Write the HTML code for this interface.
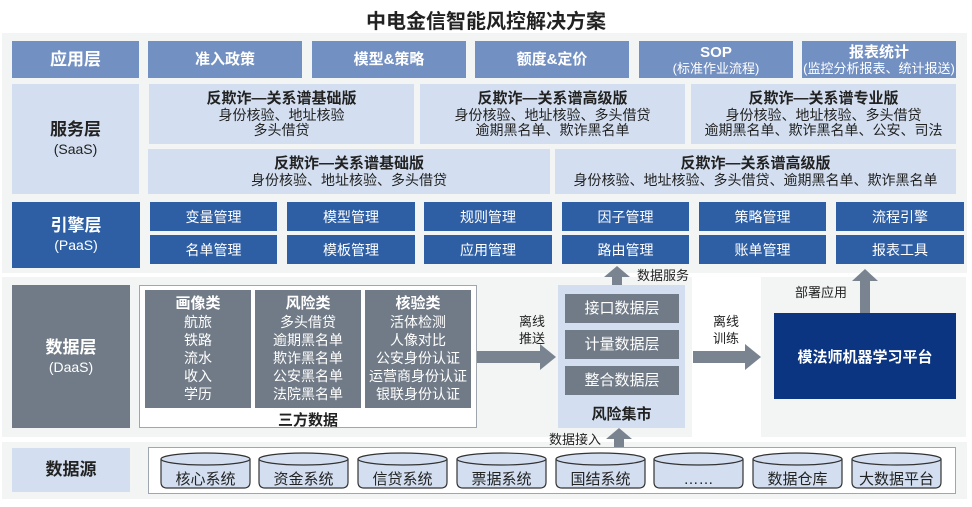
<!DOCTYPE html>
<html><head><meta charset="utf-8"><style>
body{margin:0;width:972px;height:507px;background:#fff;position:relative;overflow:hidden;font-family:"Liberation Sans","Noto Sans CJK SC",sans-serif;}
div{position:absolute;box-sizing:border-box;}
.c{display:flex;flex-direction:column;align-items:center;justify-content:center;text-align:center;}
.app{background:#7390c2;color:#fff;font-weight:bold;font-size:15px;line-height:17px;}
.app small{font-weight:normal;font-size:13px;line-height:15px;}
.svc{background:#d3dff0;color:#222;font-size:14px;line-height:15px;}
.svc b{font-size:15px;line-height:18px;}
.eng{background:#2e5fa5;color:#fff;font-size:14px;}
.dk{background:#717b87;color:#fff;font-size:14px;line-height:18px;}
.dk b{font-size:15px;}
.lbl{font-weight:bold;font-size:17px;line-height:20px;}
.lbl span{font-weight:normal;font-size:14px;line-height:18px;}
.t{font-size:13px;color:#222;line-height:17px;}
</style></head><body>
<div style="left:0;top:5px;width:972px;text-align:center;font-size:20px;font-weight:bold;color:#222;">中电金信智能风控解决方案</div>
<div style="left:2px;top:33px;width:965px;height:240px;background:#f3f5f5;"></div>
<div style="left:2px;top:277px;width:556px;height:160px;background:#f3f5f5;"></div>
<div style="left:558px;top:277px;width:134px;height:160px;background:#f3f5f5;"></div>
<div style="left:761px;top:277px;width:205px;height:160px;background:#f3f5f5;"></div>
<div style="left:2px;top:442px;width:965px;height:57px;background:#f3f5f5;"></div>

<div class="c app lbl" style="left:12px;top:41px;width:127px;height:37px;">应用层</div>
<div class="c app" style="left:148px;top:41px;width:154px;height:37px;">准入政策</div>
<div class="c app" style="left:312px;top:41px;width:154px;height:37px;">模型&amp;策略</div>
<div class="c app" style="left:475px;top:41px;width:154px;height:37px;">额度&amp;定价</div>
<div class="c app" style="left:639px;top:41px;width:154px;height:37px;">SOP<small>(标准作业流程)</small></div>
<div class="c app" style="left:802px;top:41px;width:154px;height:37px;">报表统计<small>(监控分析报表、统计报送)</small></div>

<div class="c svc lbl" style="left:12px;top:84px;width:127px;height:110px;color:#222;font-size:17px;line-height:20px;">服务层<span>(SaaS)</span></div>
<div class="c svc" style="left:149px;top:84px;width:265px;height:60px;"><b>反欺诈—关系谱基础版</b>身份核验、地址核验<br>多头借贷</div>
<div class="c svc" style="left:420px;top:84px;width:265px;height:60px;"><b>反欺诈—关系谱高级版</b>身份核验、地址核验、多头借贷<br>逾期黑名单、欺诈黑名单</div>
<div class="c svc" style="left:691px;top:84px;width:265px;height:60px;"><b>反欺诈—关系谱专业版</b>身份核验、地址核验、多头借贷<br>逾期黑名单、欺诈黑名单、公安、司法</div>
<div class="c svc" style="left:148px;top:149px;width:402px;height:45px;"><b>反欺诈—关系谱基础版</b>身份核验、地址核验、多头借贷</div>
<div class="c svc" style="left:555px;top:149px;width:401px;height:45px;"><b>反欺诈—关系谱高级版</b>身份核验、地址核验、多头借贷、逾期黑名单、欺诈黑名单</div>

<div class="c eng lbl" style="left:12px;top:202px;width:128px;height:66px;">引擎层<span>(PaaS)</span></div>
<div class="c eng" style="left:150px;top:202px;width:127px;height:29px;">变量管理</div>
<div class="c eng" style="left:287px;top:202px;width:128px;height:29px;">模型管理</div>
<div class="c eng" style="left:424px;top:202px;width:128px;height:29px;">规则管理</div>
<div class="c eng" style="left:562px;top:202px;width:127px;height:29px;">因子管理</div>
<div class="c eng" style="left:699px;top:202px;width:127px;height:29px;">策略管理</div>
<div class="c eng" style="left:836px;top:202px;width:128px;height:29px;">流程引擎</div>
<div class="c eng" style="left:150px;top:235px;width:127px;height:29px;">名单管理</div>
<div class="c eng" style="left:287px;top:235px;width:128px;height:29px;">模板管理</div>
<div class="c eng" style="left:424px;top:235px;width:128px;height:29px;">应用管理</div>
<div class="c eng" style="left:562px;top:235px;width:127px;height:29px;">路由管理</div>
<div class="c eng" style="left:699px;top:235px;width:127px;height:29px;">账单管理</div>
<div class="c eng" style="left:836px;top:235px;width:128px;height:29px;">报表工具</div>

<div class="c dk lbl" style="left:12px;top:285px;width:118px;height:143px;font-size:17px;line-height:20px;">数据层<span>(DaaS)</span></div>
<div style="left:139px;top:285px;width:338px;height:143px;border:1px solid #a0a6ad;background:#fff;"></div>
<div class="c dk" style="left:145px;top:290px;width:106px;height:118px;"><b>画像类</b>航旅<br>铁路<br>流水<br>收入<br>学历</div>
<div class="c dk" style="left:255px;top:290px;width:106px;height:118px;"><b>风险类</b>多头借贷<br>逾期黑名单<br>欺诈黑名单<br>公安黑名单<br>法院黑名单</div>
<div class="c dk" style="left:365px;top:290px;width:106px;height:118px;"><b>核验类</b>活体检测<br>人像对比<br>公安身份认证<br>运营商身份认证<br>银联身份认证</div>
<div style="left:139px;top:409px;width:338px;text-align:center;font-weight:bold;font-size:15px;color:#222;">三方数据</div>

<div class="t" style="left:519px;top:313px;">离线<br>推送</div>
<div class="t" style="left:713px;top:313px;">离线<br>训练</div>
<div class="t" style="left:637px;top:267px;">数据服务</div>
<div class="t" style="left:795px;top:284px;">部署应用</div>
<div class="t" style="left:549px;top:431px;">数据接入</div>

<div style="left:558px;top:285px;width:127px;height:143px;background:#d3dff0;"></div>
<div class="c dk" style="left:565px;top:294px;width:114px;height:29px;font-size:15px;">接口数据层</div>
<div class="c dk" style="left:565px;top:330px;width:114px;height:29px;font-size:15px;">计量数据层</div>
<div class="c dk" style="left:565px;top:366px;width:114px;height:29px;font-size:15px;">整合数据层</div>
<div style="left:558px;top:403px;width:127px;text-align:center;font-weight:bold;font-size:15px;color:#222;">风险集市</div>

<div class="c" style="left:774px;top:313px;width:182px;height:86px;background:#0b3580;color:#fff;font-weight:bold;font-size:15px;">模法师机器学习平台</div>

<div class="c lbl" style="left:12px;top:448px;width:118px;height:44px;background:#d3dff0;color:#222;">数据源</div>
<div style="left:148px;top:447px;width:808px;height:47px;border:1px solid #a0a6ad;background:#fff;"></div>

<svg width="972" height="507" style="position:absolute;left:0;top:0;">
<g fill="#7a8490">
<polygon points="477,351 540,351 540,344 556,357 540,370 540,363 477,363"/>
<polygon points="693,351 745,351 745,344 761,357 745,370 745,363 693,363"/>
<polygon points="612,285 612,277 604,277 617,266 630,277 622,277 622,285"/>
<polygon points="860,313 860,281 852,281 865,269 878,281 870,281 870,313"/>
<polygon points="614,447 614,439 606,439 619,428 632,439 624,439 624,447"/>
</g>
<g stroke="#333" stroke-width="1.2" fill="#d3dff0" font-family="Liberation Sans, Noto Sans CJK SC, sans-serif" font-size="15" text-anchor="middle">
<path d="M161,459 L161,482 Q161,488 167,488 L244,488 Q250,488 250,482 L250,459"/><ellipse cx="205.5" cy="459" rx="44.5" ry="6"/>
<path d="M259,459 L259,482 Q259,488 265,488 L342,488 Q348,488 348,482 L348,459"/><ellipse cx="303.5" cy="459" rx="44.5" ry="6"/>
<path d="M358,459 L358,482 Q358,488 364,488 L441,488 Q447,488 447,482 L447,459"/><ellipse cx="402.5" cy="459" rx="44.5" ry="6"/>
<path d="M457,459 L457,482 Q457,488 463,488 L540,488 Q546,488 546,482 L546,459"/><ellipse cx="501.5" cy="459" rx="44.5" ry="6"/>
<path d="M556,459 L556,482 Q556,488 562,488 L639,488 Q645,488 645,482 L645,459"/><ellipse cx="600.5" cy="459" rx="44.5" ry="6"/>
<path d="M654,459 L654,482 Q654,488 660,488 L737,488 Q743,488 743,482 L743,459"/><ellipse cx="698.5" cy="459" rx="44.5" ry="6"/>
<path d="M753,459 L753,482 Q753,488 759,488 L836,488 Q842,488 842,482 L842,459"/><ellipse cx="797.5" cy="459" rx="44.5" ry="6"/>
<path d="M852,459 L852,482 Q852,488 858,488 L935,488 Q941,488 941,482 L941,459"/><ellipse cx="896.5" cy="459" rx="44.5" ry="6"/>
<g stroke="none" fill="#222">
<text x="205.5" y="484">核心系统</text>
<text x="303.5" y="484">资金系统</text>
<text x="402.5" y="484">信贷系统</text>
<text x="501.5" y="484">票据系统</text>
<text x="600.5" y="484">国结系统</text>
<text x="698.5" y="484">……</text>
<text x="797.5" y="484">数据仓库</text>
<text x="896.5" y="484">大数据平台</text>
</g>
</g>
</svg>
</body></html>
